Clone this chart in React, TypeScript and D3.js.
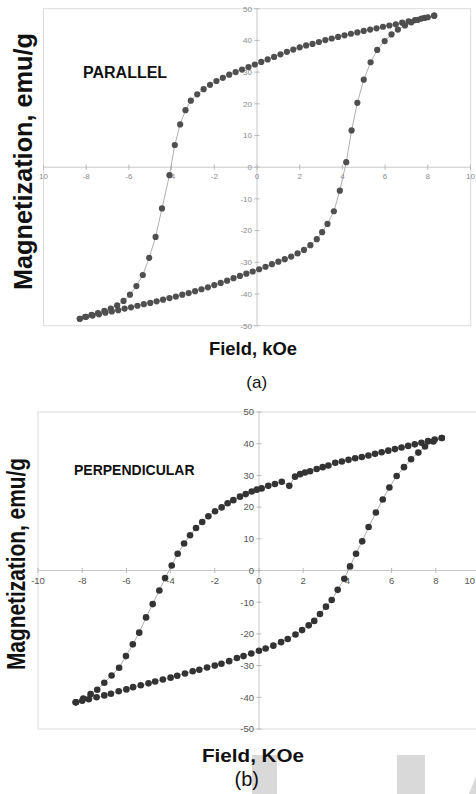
import React from "react";
import * as d3 from "d3";

// Hysteresis loops (a) parallel and (b) perpendicular.
const fieldAUp = [8.3, 8.0, 7.7, 7.4, 7.1, 6.8, 6.5, 6.2, 5.9, 5.6, 5.3, 5.0, 4.7, 4.4, 4.1, 3.8, 3.5, 3.2, 2.9, 2.6, 2.3, 2.0, 1.7, 1.4, 1.1, 0.8, 0.5, 0.2, -0.1, -0.4, -0.7, -1.0, -1.3, -1.6, -1.9, -2.2, -2.5, -2.8, -3.1, -3.35, -3.6, -3.85, -4.1, -4.45, -4.75, -5.05, -5.35, -5.65, -5.95, -6.25, -6.55, -6.85, -7.15, -7.45, -7.75, -8.05, -8.3];
const magAUp = [47.8, 47.3, 46.9, 46.4, 46.0, 45.6, 45.1, 44.7, 44.3, 43.8, 43.4, 43.0, 42.5, 42.1, 41.6, 41.1, 40.6, 40.1, 39.5, 38.9, 38.4, 37.8, 37.1, 36.4, 35.6, 34.8, 34.0, 33.2, 32.4, 31.6, 30.8, 30.0, 29.2, 28.2, 27.2, 26.0, 24.6, 23.0, 21.0, 18.0, 13.5, 7.0, -2.5, -13.0, -22.0, -28.6, -34.0, -37.5, -40.2, -42.2, -43.6, -44.6, -45.3, -46.0, -46.6, -47.2, -47.8];
const fieldADown = [-8.3, -8.0, -7.7, -7.4, -7.1, -6.8, -6.5, -6.2, -5.9, -5.6, -5.3, -5.0, -4.7, -4.4, -4.1, -3.8, -3.5, -3.2, -2.9, -2.6, -2.3, -2.0, -1.7, -1.4, -1.1, -0.8, -0.5, -0.2, 0.1, 0.4, 0.7, 1.0, 1.3, 1.6, 1.9, 2.2, 2.5, 2.8, 3.05, 3.3, 3.6, 3.88, 4.18, 4.43, 4.7, 5.0, 5.32, 5.63, 5.98, 6.3, 6.6, 6.93, 7.23, 7.54, 7.85, 8.3];
const magADown = [-47.8, -47.2, -46.8, -46.4, -45.9, -45.5, -45.1, -44.6, -44.2, -43.7, -43.2, -42.8, -42.3, -41.8, -41.3, -40.8, -40.2, -39.7, -39.1, -38.5, -37.9, -37.2, -36.5, -35.8, -35.0, -34.3, -33.6, -32.9, -32.2, -31.4, -30.6, -29.8, -29.0, -28.2, -27.2, -26.1, -24.6, -22.7, -20.5, -17.9, -13.9, -7.4, 1.6, 11.6, 20.3, 27.6, 33.1, 37.0, 39.8, 41.9, 43.4, 44.7, 45.7, 46.5, 47.1, 47.8];

const fieldBUp = [8.27, 7.95, 7.65, 7.35, 7.05, 6.75, 6.45, 6.15, 5.85, 5.55, 5.25, 4.95, 4.65, 4.35, 4.05, 3.75, 3.45, 3.14, 2.88, 2.61, 2.31, 2.08, 1.86, 1.63, 1.37, 1.03, 0.72, 0.42, 0.12, -0.1, -0.33, -0.6, -0.86, -1.16, -1.42, -1.69, -1.99, -2.29, -2.57, -2.85, -3.12, -3.39, -3.68, -3.95, -4.25, -4.51, -4.81, -5.11, -5.42, -5.71, -6.02, -6.33, -6.67, -7.0, -7.32, -7.62, -7.95, -8.28];
const magBUp = [41.8, 41.3, 40.8, 40.3, 39.8, 39.3, 38.8, 38.3, 37.8, 37.3, 36.8, 36.3, 35.8, 35.4, 34.9, 34.4, 34.0, 33.1, 32.6, 32.0, 31.3, 30.9, 30.4, 29.6, 26.7, 28.0, 27.3, 26.7, 25.9, 25.5, 24.9, 24.1, 23.3, 22.2, 21.2, 19.9, 18.7, 17.1, 15.3, 13.4, 11.1, 8.5, 5.3, 1.6, -2.4, -6.3, -10.6, -14.8, -19.6, -23.3, -27.0, -30.7, -33.1, -35.4, -37.6, -39.0, -40.4, -41.6];
const fieldBDown = [-8.3, -8.0, -7.7, -7.35, -7.0, -6.7, -6.35, -6.0, -5.7, -5.35, -5.0, -4.7, -4.35, -4.0, -3.7, -3.35, -3.0, -2.7, -2.35, -2.0, -1.7, -1.35, -1.0, -0.7, -0.35, 0.0, 0.3, 0.65, 1.0, 1.3, 1.65, 1.95, 2.25, 2.5, 2.76, 3.03, 3.29, 3.56, 3.86, 4.12, 4.39, 4.67, 4.96, 5.29, 5.6, 5.9, 6.23, 6.56, 6.88, 7.21, 7.51, 7.89, 8.27];
const magBDown = [-41.6, -41.1, -40.6, -40.0, -39.4, -38.9, -38.1, -37.5, -36.8, -36.2, -35.6, -35.0, -34.4, -33.8, -33.2, -32.5, -31.8, -31.3, -30.6, -30.0, -29.4, -28.6, -27.6, -27.0, -26.2, -25.3, -24.6, -23.7, -22.6, -21.6, -20.2, -18.8, -17.3, -15.9, -13.7, -11.4, -9.3, -6.1, -2.6, 1.3, 5.3, 9.2, 13.7, 18.3, 22.4, 26.2, 29.8, 32.6, 35.1, 37.2, 39.1, 40.7, 41.8];

const xTicks = [-10, -8, -6, -4, -2, 0, 2, 4, 6, 8, 10];
const xTickLabelsA = ["10", "-8", "-6", "-4", "-2", "0", "2", "4", "6", "8", "10"];
const xTickLabelsB = ["-10", "-8", "-6", "-4", "-2", "0", "2", "4", "6", "8", "10"];
const yTicks = [-50, -40, -30, -20, -10, 0, 10, 20, 30, 40, 50];

const FONT = "'Liberation Sans', Arial, sans-serif";
const W = 476;

type PanelProps = {
  xRange: [number, number];
  yRange: [number, number];
  boxRight: number;
  up: [number[], number[]];
  down: [number[], number[]];
  xLabels: string[];
  tickSize: number;
  tickColor: string;
  dotColor: string;
  dotR: number;
};

function Panel(p: PanelProps) {
  const x = d3.scaleLinear().domain([-10, 10]).range(p.xRange);
  const y = d3.scaleLinear().domain([-50, 50]).range(p.yRange);
  const x0 = x(0);
  const y0 = y(0);
  const line = d3
    .line<[number, number]>()
    .x((d) => x(d[0]))
    .y((d) => y(d[1]));
  const branches = [p.up, p.down].map(([hs, ms]) => hs.map((h, i) => [h, ms[i]] as [number, number]));

  return (
    <g>
      <rect
        x={p.xRange[0]}
        y={p.yRange[1]}
        width={p.boxRight - p.xRange[0]}
        height={p.yRange[0] - p.yRange[1]}
        fill="none"
        stroke="#dcdcdc"
      />
      <line x1={p.xRange[0]} x2={p.boxRight} y1={y0} y2={y0} stroke="#c8c8c8" />
      <line x1={x0} x2={x0} y1={p.yRange[1]} y2={p.yRange[0]} stroke="#c8c8c8" />
      {xTicks.map((t, i) => {
        // label running past the page edge gets pulled back inside
        const tx = x(t);
        const clip = tx + p.tickSize > W;
        return (
          <g key={"x" + t}>
            <line x1={tx} x2={tx} y1={y0 - 2.5} y2={y0 + 2.5} stroke="#b8b8b8" />
            <text
              x={clip ? W - 1 : tx}
              y={y0 + 4 + p.tickSize}
              textAnchor={clip ? "end" : "middle"}
              fontSize={p.tickSize}
              fill={p.tickColor}
              fontFamily={FONT}
            >
              {p.xLabels[i]}
            </text>
          </g>
        );
      })}
      {yTicks.map((t) => (
        <g key={"y" + t}>
          <line x1={x0 - 2.5} x2={x0 + 2.5} y1={y(t)} y2={y(t)} stroke="#b8b8b8" />
          <text
            x={x0 - 5}
            y={y(t) + p.tickSize * 0.35}
            textAnchor="end"
            fontSize={p.tickSize}
            fill={p.tickColor}
            fontFamily={FONT}
          >
            {t}
          </text>
        </g>
      ))}
      {branches.map((b, i) => (
        <path key={"l" + i} d={line(b) || ""} fill="none" stroke="#9a9a9a" strokeWidth={0.8} />
      ))}
      {branches.map((b, i) =>
        b.map((d, j) => <circle key={`c${i}-${j}`} cx={x(d[0])} cy={y(d[1])} r={p.dotR} fill={p.dotColor} />)
      )}
    </g>
  );
}

export default function App() {
  return (
    <svg
      width={W}
      height={794}
      style={{ position: "absolute", left: 0, top: 0, background: "#fff" }}
      fontFamily={FONT}
    >
      <rect width={W} height={794} fill="#fff" />
      {/* watermark blocks at the bottom of the scan */}
      <rect x={252} y={755} width={25} height={39} fill="#d9d9d9" />
      <rect x={397} y={755} width={28} height={39} fill="#d9d9d9" />
      <polygon points="469,794 476,776 476,794" fill="#d9d9d9" />

      <Panel
        xRange={[43.5, 470.5]}
        yRange={[325.7, 8.7]}
        boxRight={470.7}
        up={[fieldAUp, magAUp]}
        down={[fieldADown, magADown]}
        xLabels={xTickLabelsA}
        tickSize={8}
        tickColor="#8a8a8a"
        dotColor="#4f4f4f"
        dotR={3.1}
      />
      <text x={83} y={78.3} fontSize={16} fontWeight="bold" fill="#111">
        PARALLEL
      </text>
      <text
        transform="translate(31.5,161.5) rotate(-90)"
        textAnchor="middle"
        fontSize={25}
        fontWeight="bold"
        fill="#111"
        textLength={257}
        lengthAdjust="spacingAndGlyphs"
      >
        Magnetization, emu/g
      </text>
      <text x={253} y={355} textAnchor="middle" fontSize={18} fontWeight="bold" fill="#111" textLength={88} lengthAdjust="spacingAndGlyphs">
        Field, kOe
      </text>
      <text x={256.7} y={388} textAnchor="middle" fontSize={17} fill="#111">
        (a)
      </text>

      <Panel
        xRange={[38, 480]}
        yRange={[729, 412]}
        boxRight={480}
        up={[fieldBUp, magBUp]}
        down={[fieldBDown, magBDown]}
        xLabels={xTickLabelsB}
        tickSize={9.5}
        tickColor="#555"
        dotColor="#333"
        dotR={3.3}
      />
      <text x={74} y={475} fontSize={14} fontWeight="bold" fill="#111">
        PERPENDICULAR
      </text>
      <text
        transform="translate(25,564) rotate(-90)"
        textAnchor="middle"
        fontSize={25}
        fontWeight="bold"
        fill="#111"
        textLength={212}
        lengthAdjust="spacingAndGlyphs"
      >
        Magnetization, emu/g
      </text>
      <text x={253} y={761.7} textAnchor="middle" fontSize={19} fontWeight="bold" fill="#111" textLength={102} lengthAdjust="spacingAndGlyphs">
        Field, KOe
      </text>
      <text x={246.7} y={786} textAnchor="middle" fontSize={20} fill="#111">
        (b)
      </text>
    </svg>
  );
}
